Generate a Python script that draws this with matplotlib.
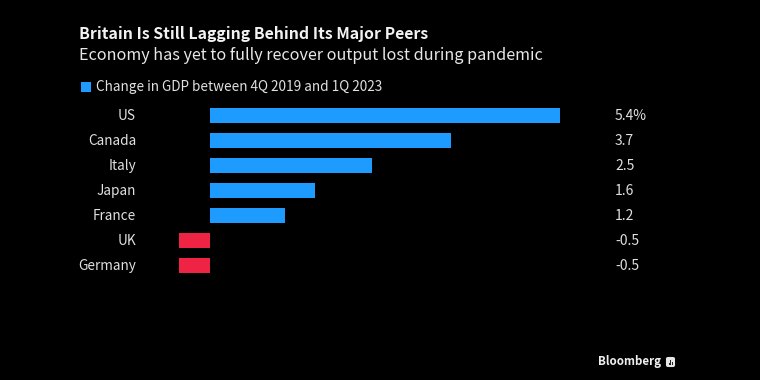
import matplotlib
matplotlib.use("Agg")
import matplotlib.pyplot as plt
from matplotlib.patches import FancyBboxPatch, Rectangle
from matplotlib.transforms import ScaledTranslation

plt.rcParams['font.family'] = ['Noto Sans CJK JP', 'DejaVu Sans']

countries = ['US', 'Canada', 'Italy', 'Japan', 'France', 'UK', 'Germany']
gdp_change = [5.4, 3.72, 2.5, 1.62, 1.16, -0.47, -0.47]
value_labels = ['5.4%', '3.7', '2.5', '1.6', '1.2', '-0.5', '-0.5']

W, H = 760, 380
blue = '#1e9bff'
red = '#ef2343'
text_col = '#e0e0e0'

fig = plt.figure(figsize=(W / 100, H / 100), dpi=100, facecolor='black')

# axes box in pixels, x scale about 64.9 px per point
left, right, top, bottom = 175, 600, 102.5, 277.5
ax = fig.add_axes([left / W, 1 - bottom / H, (right - left) / W, (bottom - top) / H])
ax.set_facecolor('black')
ax.set_xlim((left - 209.5) / 64.9, (right - 209.5) / 64.9)
ax.set_ylim(6.5, -0.5)

colors = [blue if v > 0 else red for v in gdp_change]
ax.barh(range(len(countries)), gdp_change, height=0.6, color=colors)

ax.set_yticks(range(len(countries)))
ax.set_yticklabels(countries, fontsize=9.8, color=text_col)
ax.tick_params(axis='y', length=0, pad=28)
ax.set_xticks([])
for s in ax.spines.values():
    s.set_visible(False)

# tick labels sit a little high in the reference
shift = ScaledTranslation(0, 0.7 / 72, fig.dpi_scale_trans)
for lab in ax.get_yticklabels():
    lab.set_transform(lab.get_transform() + shift)

# value column to the right of the bars
for i, lab in enumerate(value_labels):
    ax.annotate(lab, xy=(1, i), xycoords=ax.get_yaxis_transform(), xytext=(15 * 0.72, -1),
                textcoords='offset points', color=text_col, fontsize=10,
                ha='left', va='center')

fig.text(79 / W, 1 - 33.5 / H, 'Britain Is Still Lagging Behind Its Major Peers',
         color='#f2f2f2', fontsize=11.4, fontweight='bold', va='center')
fig.text(79 / W, 1 - 56 / H, 'Economy has yet to fully recover output lost during pandemic',
         color='#e8e8e8', fontsize=11.65, va='center')

# legend
fig.add_artist(Rectangle((81 / W, 1 - 92 / H), 10 / W, 10 / H, transform=fig.transFigure,
                         facecolor=blue, edgecolor='none'))
fig.text(96 / W, 1 - 87 / H, 'Change in GDP between 4Q 2019 and 1Q 2023',
         color=text_col, fontsize=9.78, va='center')

# footer
fig.text(598 / W, 1 - 362 / H, 'Bloomberg', color='#eeeeee', fontsize=8.3, fontweight='bold',
         va='center')
# small logo: rounded tile with three dark bars
fig.add_artist(FancyBboxPatch((667 / W, 1 - 366 / H), 7 / W, 8 / H, transform=fig.transFigure,
                              boxstyle='round,pad=0.0,rounding_size=0.002',
                              facecolor='#e6e6e6', edgecolor='#e6e6e6', linewidth=1.5))
for bx, bh in [(668.5, 2.5), (670.2, 5), (672, 3.5)]:
    fig.add_artist(Rectangle((bx / W, 1 - 365 / H), 1.1 / W, bh / H, transform=fig.transFigure,
                             facecolor='#222222', edgecolor='none'))

fig.savefig('out.png', dpi=100, facecolor='black')
